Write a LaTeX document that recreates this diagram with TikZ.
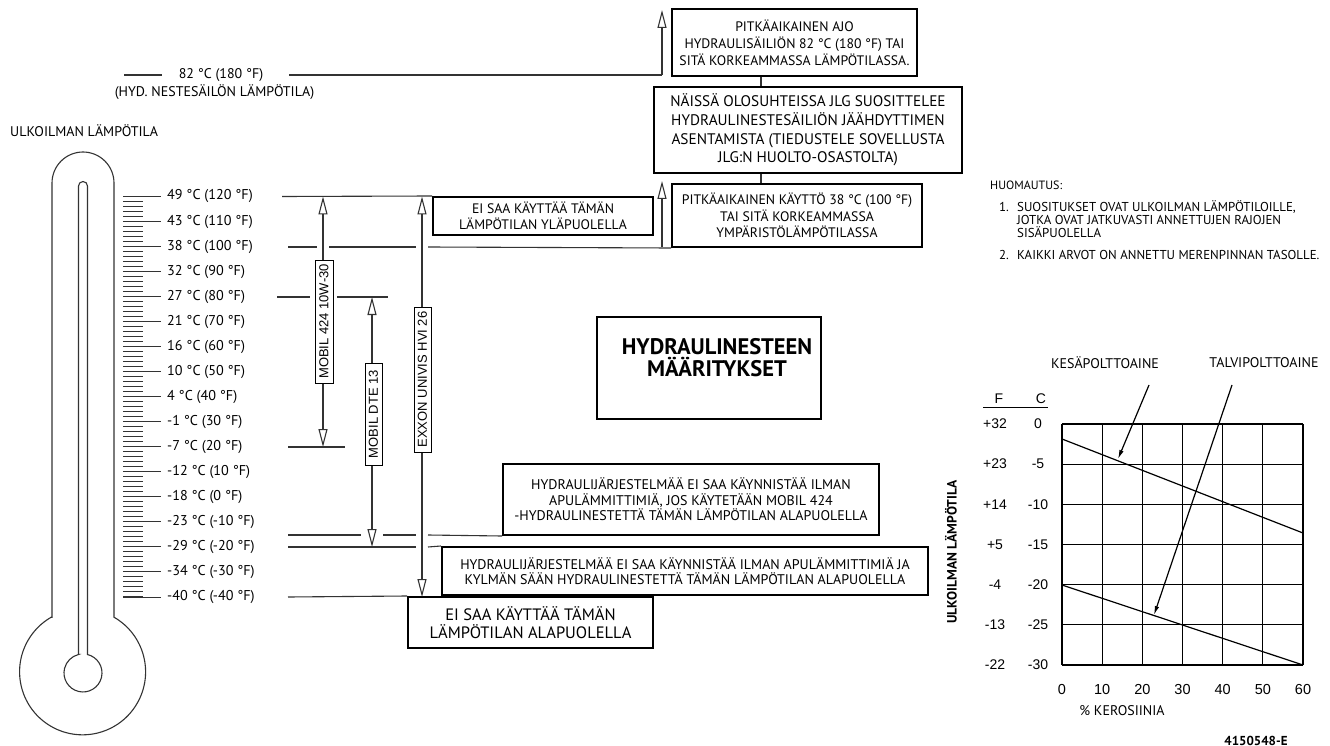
\documentclass[tikz,border=0pt]{standalone}
\usepackage{fontspec}
\setmainfont{PT Sans}
\newfontfamily\arialf{Liberation Sans}
\usetikzlibrary{arrows.meta}
\definecolor{lnc}{HTML}{333333}
\begin{document}
\begin{tikzpicture}[x=1pt,y=-1pt,
  ln/.style={draw=lnc,line width=1.1pt},
  bx/.style={draw=black,line width=2pt,fill=white,align=center,inner sep=0pt},
  lblbox/.style={draw=black,line width=1pt,fill=white,rotate=90,inner sep=0pt,font=\arialf\fontsize{13}{13}\selectfont},
  oarr/.style={-{Triangle[length=18pt,width=9pt,fill=white]}},
  darr/.style={{Triangle[length=18pt,width=9pt,fill=white]}-{Triangle[length=18pt,width=9pt,fill=white]}},
  tl/.style={anchor=west,inner sep=0pt,font=\fontsize{14.2}{14}\selectfont},
  note/.style={anchor=west,inner sep=0pt,font=\fontsize{12.9}{13}\selectfont},
  ax/.style={inner sep=0pt,font=\arialf\fontsize{14}{14}\selectfont},
  chl/.style={draw=black,line width=1.2pt}
]
\useasboundingbox (0,0) rectangle (1330,746);

% ---------------- thermometer ----------------
\draw[ln] (52,617.2) -- (52,183) arc[start angle=180,end angle=0,radius=31pt]
  -- (114,617.2) arc[start angle=60.1,end angle=-240.1,radius=63pt] -- cycle;
\draw[ln] (78.5,654.5) -- (78.5,186) arc[start angle=180,end angle=0,radius=4.5pt]
  -- (87.5,654.5) arc[start angle=76.3,end angle=-256.3,radius=19pt] -- cycle;
\foreach \i in {0,...,80} {
  \pgfmathsetmacro\yy{int(196+\i*5.0125)+0.5}
  \draw[ln,line width=1pt] (123,\yy) -- (143,\yy);
}
\foreach \i in {0,...,16} {
  \pgfmathsetmacro\yy{int(196+\i*25.0625)+0.5}
  \draw[ln,line width=1pt] (123,\yy) -- (161,\yy);
}
\foreach \t [count=\k from 0] in {49 °C (120 °F),43 °C (110 °F),38 °C (100 °F),32 °C (90 °F),27 °C (80 °F),21 °C (70 °F),16 °C (60 °F),10 °C (50 °F),4 °C (40 °F),-1 °C (30 °F),-7 °C (20 °F),-12 °C (10 °F),-18 °C (0 °F),-23 °C (-10 °F),-29 °C (-20 °F),-34 °C (-30 °F),-40 °C (-40 °F)}
  \node[tl] (t\k) at (167,196.5+\k*25.0625) {\t};

% ---------------- top-left texts ----------------
\node[inner sep=0pt,font=\fontsize{14}{14}\selectfont] (t82) at (221,75) {82 °C (180 °F)};
\node[inner sep=0pt,font=\fontsize{14}{14}\selectfont] (thyd) at (214.5,92) {(HYD. NESTESÄILÖN LÄMPÖTILA)};
\node[anchor=west,inner sep=0pt,font=\fontsize{14}{14}\selectfont] (tulk) at (10,131) {ULKOILMAN LÄMPÖTILA};
\draw[ln] (124,75) -- (162,75);

% ---------------- upper boxes ----------------
\node[bx,minimum width=245pt,minimum height=67pt,font=\fontsize{13.75}{17}\selectfont] (b1) at (794.5,42.5)
  {PITKÄAIKAINEN AJO\\HYDRAULISÄILIÖN 82 °C (180 °F) TAI\\SITÄ KORKEAMMASSA LÄMPÖTILASSA.};
\node[bx,minimum width=308pt,minimum height=86pt,font=\fontsize{15.3}{18.5}\selectfont] (b2) at (808,130)
  {NÄISSÄ OLOSUHTEISSA JLG SUOSITTELEE\\HYDRAULINESTESÄILIÖN JÄÄHDYTTIMEN\\ASENTAMISTA (TIEDUSTELE SOVELLUSTA\\JLG:N HUOLTO-OSASTOLTA)};
\node[bx,minimum width=250pt,minimum height=63pt,font=\fontsize{13.75}{16.5}\selectfont] (b3) at (797,215.5)
  {PITKÄAIKAINEN KÄYTTÖ 38 °C (100 °F)\\TAI SITÄ KORKEAMMASSA\\YMPÄRISTÖLÄMPÖTILASSA};
\coordinate (cx) at (761,0);
\draw[ln] (b1.south -| cx) -- (b2.north -| cx);
\draw[ln] (b2.south -| cx) -- (b3.north -| cx);

\node[bx,minimum width=220pt,minimum height=38pt,font=\fontsize{13.75}{16}\selectfont] (eiy) at (543,216)
  {EI SAA KÄYTTÄÄ TÄMÄN\\LÄMPÖTILAN YLÄPUOLELLA};

% 82 line and arrow
\coordinate (a82) at (662,75);
\draw[ln] (289,75) -- (a82);
\draw[ln,oarr] (a82) -- (662,10);

% 49 line
\draw[ln] (282,196.5) -- (eiy.north west);
% 38 line
\coordinate (a38) at (662,247);
\draw[ln] (288,247) -- (317,247);
\draw[ln] (329,247) -- (416,247);
\draw[ln] (428,247) -- (b3.south west);
\draw[ln,oarr] (a38) -- (662,181);
% 27 line
\draw[ln] (277,297) -- (310,297);
\draw[ln] (337,297) -- (388,297);
% -7 line
\draw[ln] (288,447) -- (345,447);

% ---------------- center title ----------------
\node[draw=black,line width=2pt,minimum width=224pt,minimum height=102pt,inner sep=0pt] (tbox) at (709,368) {};
\node[align=center,inner sep=0pt,font=\bfseries\fontsize{22.5}{22}\selectfont] (ttl) at (717,358) {HYDRAULINESTEEN\\MÄÄRITYKSET};

% ---------------- lower boxes ----------------
\node[bx,minimum width=376pt,minimum height=71pt,font=\fontsize{14}{15.5}\selectfont] (h1) at (691,499.5)
  {HYDRAULIJÄRJESTELMÄÄ EI SAA KÄYNNISTÄÄ ILMAN\\APULÄMMITTIMIÄ, JOS KÄYTETÄÄN MOBIL 424\\-HYDRAULINESTETTÄ TÄMÄN LÄMPÖTILAN ALAPUOLELLA};
\node[bx,minimum width=486pt,minimum height=48pt,font=\fontsize{14}{15.5}\selectfont] (h2) at (685,571)
  {HYDRAULIJÄRJESTELMÄÄ EI SAA KÄYNNISTÄÄ ILMAN APULÄMMITTIMIÄ JA\\KYLMÄN SÄÄN HYDRAULINESTETTÄ TÄMÄN LÄMPÖTILAN ALAPUOLELLA};
\node[bx,minimum width=245pt,minimum height=51pt,font=\fontsize{16.5}{18}\selectfont] (eia) at (530.5,622.5)
  {EI SAA KÄYTTÄÄ TÄMÄN\\LÄMPÖTILAN ALAPUOLELLA};

% -23 (535) line
\draw[ln] (288,535) -- (361,535);
\draw[ln] (383,535) -- (416,535);
\draw[ln] (428,535) -- (h1.south west);
% -29 (547) line
\draw[ln] (288,547) -- (416,547);
\draw[ln] (428,547) -- (h2.north west);
% -40 line
\draw[ln] (288,597) -- (eia.north west);

% ---------------- vertical range arrows ----------------
\draw[ln,darr] (323,196.5) -- (323,447);
\node[lblbox,minimum width=123pt,minimum height=18pt] (m424) at (324,321.5) {MOBIL 424 10W-30};
\draw[ln,darr] (372,297) -- (372,547);
\node[lblbox,minimum width=102pt,minimum height=17pt] (dte) at (373.5,414) {MOBIL DTE 13};
\draw[ln,darr] (422,196.5) -- (422,597);
\node[lblbox,minimum width=145pt,minimum height=17pt] (exx) at (422.5,379.5) {EXXON UNIVIS HVI 26};

% ---------------- notes ----------------
\node[note,font=\fontsize{12}{13}\selectfont] (n0) at (990,185) {HUOMAUTUS:};
\node[note] (n1) at (999,207) {1.};
\node[note,align=left,anchor=north west] (n1t) at (1017,200.5) {SUOSITUKSET OVAT ULKOILMAN LÄMPÖTILOILLE,\\JOTKA OVAT JATKUVASTI ANNETTUJEN RAJOJEN\\SISÄPUOLELLA};
\node[note] (n2) at (999,255) {2.};
\node[note] (n2t) at (1017,255) {KAIKKI ARVOT ON ANNETTU MERENPINNAN TASOLLE.};

% ---------------- chart ----------------
\foreach \i in {0,...,6} {
  \draw[chl] (1062+\i*40.17,424) -- (1062+\i*40.17,665);
  \draw[chl] (1062,424+\i*40.17) -- (1303,424+\i*40.17);
}
\draw[chl] (1062,439) -- (1303,533);
\draw[chl] (1062,585) -- (1303,665);
\foreach \f/\c [count=\k from 0] in {+32/0,+23/-5,+14/-10,+5/-15,-4/-20,-13/-25,-22/-30} {
  \node[ax] (yf\k) at (995,424+\k*40.17) {\f};
  \node[ax] (yc\k) at (1038,424+\k*40.17) {\c};
}
\foreach \v [count=\k from 0] in {0,10,20,30,40,50,60}
  \node[ax,font=\arialf\fontsize{14.5}{14.5}\selectfont] (xl\k) at (1062+\k*40.17,690) {\v};
\node[ax] (hf) at (999,399) {F};
\node[ax] (hc) at (1041,399) {C};
\draw[chl,line width=1pt] (983,407) -- (1048,407);
\node[inner sep=0pt,font=\fontsize{14}{14}\selectfont] (ker) at (1122,711) {\% KEROSIINIA};
\node[inner sep=0pt,font=\fontsize{14}{14}\selectfont] (kes) at (1105,363) {KESÄPOLTTOAINE};
\node[inner sep=0pt,font=\fontsize{14}{14}\selectfont] (tal) at (1264,363) {TALVIPOLTTOAINE};
\draw[chl,-{Latex[length=9pt,width=4.5pt]}] (1149,385) -- (1118,459);
\draw[chl,-{Latex[length=9pt,width=4.5pt]}] (1232,385) -- (1154,615);
\node[inner sep=0pt,rotate=90,font=\bfseries\fontsize{13.5}{13.5}\selectfont] (yax) at (951,552) {ULKOILMAN LÄMPÖTILA};
\node[inner sep=0pt,anchor=base,font=\bfseries\fontsize{13}{13}\selectfont] (code) at (1256,745) {4150548-E};
\end{tikzpicture}
\end{document}
